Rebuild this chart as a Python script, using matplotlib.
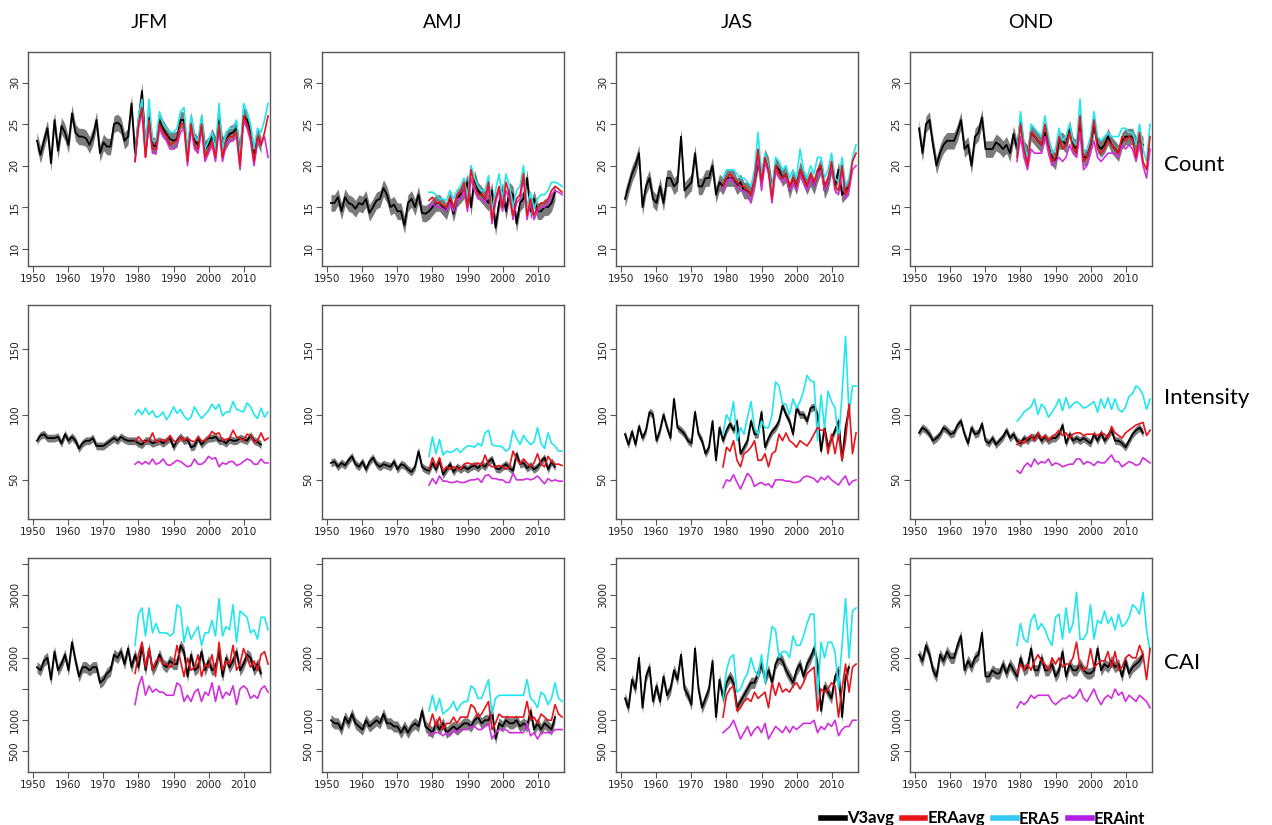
import matplotlib
matplotlib.use("Agg")
import matplotlib.pyplot as plt
from matplotlib.lines import Line2D
import numpy as np

# years: V3 reanalysis 1951-2015, ERA products 1979-2017
years_v3 = np.arange(1951, 2016)
years_era = np.arange(1979, 2018)

seasons = ["JFM", "AMJ", "JAS", "OND"]
metrics = ["Count", "Intensity", "CAI"]
series = ["V3avg", "ERAavg", "ERA5", "ERAint"]

# half width of the grey V3 ensemble band, per metric
v3_spread = [1.0, 3.0, 90]

# ---------------- Count ----------------
count_jfm_v3 = [23, 21.3, 23, 24.5, 20.3, 25.5, 21.8, 24.8, 24, 22.5,
                26.3, 24, 23.5, 23.5, 23.3, 22.5, 23.5, 25.5, 21.5, 22.8,
                22.3, 22.3, 25, 25.2, 24.8, 23, 23.5, 27.5, 21.5, 25.5,
                29, 22, 25.8, 22.5, 22.3, 25.5, 24.5, 23.8, 23.2, 23,
                23.2, 25.5, 25.5, 21.5, 25.5, 23, 22.5, 25.5, 22, 22.5,
                23.5, 22.5, 25.5, 22.5, 23, 23.8, 24, 24.5, 21.5, 26,
                25.5, 24, 21.5, 23.5, 22.5]
count_jfm_eraavg = [20.5, 25, 27, 21, 25.5, 22, 22, 25, 24, 23.5,
                    22.5, 22.8, 23, 25, 25, 20.5, 25, 22.5, 22, 25,
                    21, 22, 23, 21, 25, 21, 23, 23.5, 23.5, 24,
                    20, 26, 25, 23.5, 20.5, 23.5, 22.5, 24, 26]
count_jfm_era5 = [21, 26, 28, 22, 28, 23, 23, 26.5, 25, 24.5,
                  24, 24, 24.5, 26.5, 27, 21.5, 26, 23.5, 23, 26,
                  22, 23, 24, 22, 27.5, 22, 24, 24.5, 24.5, 25.5,
                  21, 27.5, 26.5, 25, 22, 24.5, 24, 25.5, 27.5]
count_jfm_eraint = [20.5, 24.5, 26.5, 21, 25, 21.5, 21.5, 24.5, 23.5, 23,
                    22, 22, 22.5, 24, 24.5, 20, 24.5, 22, 21.5, 24.5,
                    20.5, 21.5, 22.5, 20.5, 24.5, 20.5, 22.5, 23, 23, 23.5,
                    19.5, 25.5, 24.5, 23, 20, 23, 22.5, 23.5, 21]

count_amj_v3 = [15.5, 15.5, 16.2, 14.5, 16.2, 15.5, 15.3, 14.8, 15.5, 15.3,
                16, 14.3, 15, 15.8, 16, 17.3, 16.5, 15, 15.3, 14.5,
                14.5, 12.8, 15.5, 16, 15, 16.5, 14.3, 14.2, 14.5, 15,
                15.5, 15.5, 15, 14.5, 16, 14.2, 16, 16.5, 17, 18,
                15, 18.5, 17, 16.5, 16, 15.5, 17, 12.5, 15.5, 17,
                14.5, 17, 16.5, 13, 15.5, 16, 18.5, 14.5, 16, 14.5,
                14.5, 15, 15, 15.5, 16.8]
count_amj_eraavg = [15.8, 16.2, 15.5, 15.5, 15.2, 15, 16.2, 15, 16.5, 16.8,
                    18, 15, 19.5, 17.5, 16.5, 16.5, 16, 18, 13.5, 16,
                    17.5, 15, 18, 16.5, 14, 16, 16.5, 19, 14, 16,
                    14, 15, 15.5, 15.5, 16, 17, 17.5, 17.2, 16.8]
count_amj_era5 = [16.8, 16.8, 16.5, 16, 16, 15.8, 17, 16, 17, 17.5,
                  18.5, 16, 20, 18.5, 17.5, 17, 17, 18.8, 14.5, 17,
                  19, 16, 19, 17.5, 15, 17, 17.5, 20, 15, 16.8,
                  14.8, 16, 16.5, 16.5, 17, 18, 18, 17.8, 17.5]
count_amj_eraint = [15, 15.5, 15, 15, 14.8, 14.5, 15.5, 14.5, 16, 16,
                    17, 14.5, 18.5, 17, 16, 16, 15.5, 17.5, 13, 15.5,
                    17, 14.5, 17, 16, 13.5, 15.5, 16, 18.5, 13.5, 15.5,
                    13.5, 14.5, 15, 15, 15.5, 16.5, 17, 16.8, 16.5]

count_jas_v3 = [16, 17.5, 19, 20, 21.5, 15, 17.5, 18.5, 16, 15.5,
                17.5, 15.5, 18.5, 18.5, 17.5, 18, 23.5, 17, 17.5, 18,
                21.5, 17.5, 17.5, 18.5, 18.5, 20, 16.5, 18, 17.5, 18.5,
                18.5, 18.5, 17.5, 18, 17, 17, 16.5, 18, 20.5, 18.5,
                21, 20, 17, 20, 19.5, 18.5, 19, 17, 18.5, 17.5,
                19.5, 18.5, 17.5, 18.5, 17.5, 19, 20, 17, 18, 20,
                17.5, 19.5, 16.5, 17, 17.5]
count_jas_eraavg = [17.5, 18.5, 19, 18.5, 18, 17.5, 17.5, 17, 16.5, 18.5,
                    22, 18, 21, 19.5, 16, 20, 19, 18.5, 19, 17.5,
                    18.5, 17.5, 19.5, 18.5, 17.5, 19, 18, 19.5, 20, 17.5,
                    18.5, 20.5, 17.5, 17, 20, 16.5, 17.5, 20.5, 21.5]
count_jas_era5 = [18.5, 19.5, 19.5, 19.5, 19, 18.5, 18.5, 18, 17.5, 19.5,
                  24, 19, 21.5, 20, 17, 21, 20.5, 19.5, 20, 18.5,
                  19.5, 18.5, 22, 19.5, 18.5, 20, 19, 21, 21, 18.5,
                  19.5, 21.5, 18.5, 18, 21, 17.5, 18.5, 21, 22.5]
count_jas_eraint = [17, 18, 18.5, 18, 17.5, 17, 17, 16.5, 15.5, 18,
                    21, 17, 20.5, 19, 15.5, 19.5, 18.5, 18, 18.5, 17,
                    18, 17, 19, 18, 17, 18.5, 17.5, 19, 19.5, 17,
                    18, 20, 17, 16.5, 19.5, 16, 17, 19.5, 20]

count_ond_v3 = [24.5, 21.5, 25, 25.5, 22.5, 20, 21.5, 22.5, 23, 23,
                23, 24, 25.5, 22, 22.5, 20, 23.5, 24, 25.8, 22,
                22, 22, 22.8, 22.5, 22, 22.5, 21.5, 23.8, 22, 25.5,
                22, 21.5, 24, 23.5, 23, 22.5, 24, 22.5, 21, 20.5,
                23, 23, 22.5, 24.5, 22.5, 22, 25.5, 21, 21, 22.5,
                25, 22.5, 22, 22.5, 23.5, 22.5, 22, 21.5, 23, 23.5,
                23.5, 23.5, 22.5, 23, 22.5]
count_ond_eraavg = [21, 25, 22, 20, 24, 23.5, 23, 22.5, 25, 22.5,
                    20.5, 21, 23.5, 22, 22.5, 24, 22, 21.5, 26, 20.5,
                    21, 22.5, 25.5, 22, 21.5, 22, 23, 22.5, 22, 21.5,
                    23.5, 23, 23.5, 23, 21, 24, 20.5, 19.5, 23.5]
count_ond_era5 = [21.5, 26.5, 22.5, 21, 25, 24.5, 24, 23.5, 26, 23.5,
                  21.5, 22, 24.5, 23, 23.5, 25, 23, 22.5, 28, 21.5,
                  22, 23.5, 26.5, 23.5, 23, 23.5, 24, 23.5, 23.5, 23.5,
                  24.5, 24.5, 24, 24, 22.5, 25, 22, 20.5, 25]
count_ond_eraint = [20.5, 23.5, 21, 19.5, 22, 21.5, 21.5, 21.5, 23.5, 21.5,
                    20, 20.5, 21, 20.5, 21, 22.5, 21.5, 21, 24, 19.5,
                    20, 21.5, 23, 21, 20.5, 21, 21.5, 21.5, 21.5, 21,
                    22.5, 22, 22.5, 22, 20.5, 22.5, 20, 18.5, 22]

# ---------------- Intensity ----------------
inten_jfm_v3 = [80, 84, 85, 82, 82, 82, 83, 78, 85, 80,
                83, 80, 74, 78, 80, 80, 82, 76, 76, 76,
                78, 80, 82, 80, 83, 81, 80, 80, 80, 78,
                77, 80, 80, 78, 79, 80, 78, 80, 82, 75,
                80, 83, 80, 81, 75, 76, 82, 77, 80, 82,
                82, 83, 80, 80, 78, 81, 80, 80, 82, 81,
                80, 84, 80, 79, 77]
inten_jfm_eraavg = [80, 83, 80, 79, 80, 86, 79, 80, 81, 79,
                    84, 80, 79, 83, 80, 82, 80, 79, 83, 80,
                    80, 83, 87, 85, 86, 80, 81, 82, 88, 83,
                    82, 80, 85, 84, 79, 80, 86, 80, 82]
inten_jfm_era5 = [100, 104, 100, 105, 100, 103, 98, 99, 102, 96,
                  100, 106, 101, 104, 99, 96, 98, 106, 101, 97,
                  100, 103, 108, 104, 108, 99, 102, 102, 110, 104,
                  103, 102, 109, 106, 100, 97, 105, 98, 102]
inten_jfm_eraint = [62, 64, 62, 64, 62, 66, 62, 63, 66, 62,
                    61, 63, 65, 64, 62, 60, 61, 66, 62, 62,
                    64, 68, 66, 67, 60, 63, 62, 64, 64, 61,
                    62, 64, 66, 65, 62, 62, 66, 63, 63]

inten_amj_v3 = [63, 64, 60, 63, 61, 65, 68, 62, 60, 64,
                58, 64, 67, 62, 60, 62, 61, 60, 64, 58,
                62, 61, 58, 56, 60, 72, 60, 58, 57, 63,
                58, 65, 54, 58, 62, 56, 60, 58, 60, 58,
                60, 61, 59, 62, 60, 64, 66, 59, 58, 60,
                62, 59, 57, 70, 62, 63, 59, 61, 58, 60,
                64, 67, 58, 64, 60]
inten_amj_eraavg = [58, 67, 60, 67, 57, 60, 58, 60, 59, 58,
                    62, 63, 62, 62, 63, 61, 69, 62, 60, 60,
                    61, 60, 58, 60, 72, 66, 62, 66, 63, 60,
                    63, 70, 62, 60, 68, 64, 62, 62, 61]
inten_amj_era5 = [68, 83, 70, 81, 69, 72, 71, 72, 74, 71,
                  74, 76, 76, 75, 78, 76, 86, 88, 77, 76,
                  76, 75, 72, 74, 88, 82, 77, 84, 80, 77,
                  79, 90, 78, 74, 86, 78, 76, 72, 72]
inten_amj_eraint = [46, 51, 47, 53, 49, 49, 48, 48, 49, 48,
                    48, 49, 50, 50, 51, 48, 53, 54, 51, 51,
                    50, 50, 48, 48, 55, 50, 50, 50, 51, 50,
                    51, 53, 50, 47, 51, 49, 50, 49, 49]

inten_jas_v3 = [85, 77, 87, 77, 91, 82, 88, 102, 100, 80,
                88, 100, 90, 82, 112, 90, 88, 85, 80, 78,
                102, 85, 80, 70, 75, 95, 65, 90, 80, 88,
                93, 88, 95, 70, 75, 80, 95, 85, 85, 102,
                75, 82, 87, 90, 95, 107, 100, 95, 85, 105,
                100, 100, 95, 105, 106, 100, 72, 90, 75, 82,
                88, 95, 65, 90, 105]
inten_jas_eraavg = [60, 75, 72, 80, 65, 60, 70, 72, 75, 80,
                    65, 65, 70, 60, 70, 72, 85, 80, 86, 80,
                    78, 75, 80, 78, 76, 80, 85, 90, 88, 88,
                    70, 85, 70, 85, 65, 80, 108, 70, 86]
inten_jas_era5 = [85, 100, 95, 110, 80, 90, 85, 98, 110, 90,
                  85, 95, 90, 90, 100, 125, 122, 108, 108, 100,
                  112, 105, 110, 118, 130, 126, 125, 80, 115, 90,
                  118, 110, 105, 80, 115, 160, 100, 122, 122]
inten_jas_eraint = [44, 50, 49, 54, 48, 43, 49, 55, 52, 45,
                    47, 48, 46, 47, 44, 50, 50, 50, 49, 49,
                    48, 48, 49, 52, 53, 52, 51, 48, 52, 50,
                    53, 50, 48, 46, 50, 53, 46, 49, 50]

inten_ond_v3 = [86, 90, 88, 85, 80, 82, 85, 90, 88, 85,
                86, 92, 95, 85, 78, 90, 85, 86, 93, 80,
                78, 82, 77, 80, 83, 88, 82, 85, 80, 78,
                82, 80, 83, 82, 85, 80, 83, 80, 82, 82,
                85, 92, 78, 85, 80, 82, 80, 82, 80, 78,
                85, 80, 86, 80, 84, 88, 80, 80, 78, 75,
                80, 85, 88, 90, 86]
inten_ond_eraavg = [77, 80, 78, 82, 84, 80, 86, 82, 84, 80,
                    83, 85, 88, 84, 86, 82, 85, 86, 86, 84,
                    85, 85, 85, 84, 86, 85, 82, 91, 86, 84,
                    82, 86, 88, 90, 92, 93, 94, 84, 88]
inten_ond_era5 = [95, 98, 102, 104, 106, 112, 100, 108, 105, 98,
                  102, 106, 112, 103, 113, 105, 108, 110, 108, 105,
                  106, 108, 110, 102, 112, 105, 113, 104, 112, 104,
                  102, 106, 114, 116, 122, 120, 115, 104, 112]
inten_ond_eraint = [57, 55, 60, 63, 60, 66, 62, 64, 63, 66,
                    61, 63, 62, 60, 61, 62, 62, 66, 66, 62,
                    64, 63, 61, 64, 63, 63, 66, 69, 64, 64,
                    60, 62, 64, 63, 61, 62, 67, 65, 63]

# ---------------- CAI ----------------
cai_jfm_v3 = [1850, 1800, 1950, 2000, 1650, 2100, 1800, 1900, 2050, 1800,
              2250, 1950, 1700, 1850, 1850, 1800, 1850, 1850, 1600, 1650,
              1750, 1800, 2050, 2000, 2100, 1900, 2150, 1850, 2050, 1850,
              2200, 1800, 2150, 1800, 1900, 2050, 1900, 1850, 1950, 1900,
              1900, 2200, 2100, 1700, 2050, 1800, 1850, 2100, 1800, 1950,
              1800, 1850, 2100, 1700, 2000, 1850, 1950, 2100, 1800, 1900,
              2050, 2000, 1800, 1900, 1750]
cai_jfm_eraavg = [1750, 2050, 2250, 1850, 2150, 1800, 1950, 2000, 1900, 1900,
                  1850, 1900, 2200, 1950, 1700, 2000, 1800, 1850, 2050, 1700,
                  1900, 1850, 2050, 1700, 2250, 1800, 1950, 1900, 2200, 1800,
                  1900, 2150, 2000, 1850, 1950, 1800, 2050, 2100, 1900]
cai_jfm_era5 = [2200, 2700, 2800, 2350, 2800, 2400, 2550, 2400, 2400, 2400,
                2350, 2400, 2850, 2800, 2250, 2500, 2300, 2400, 2500, 2200,
                2400, 2400, 2600, 2350, 2950, 2350, 2500, 2450, 2850, 2250,
                2750, 2700, 2650, 2400, 2450, 2300, 2650, 2650, 2450]
cai_jfm_eraint = [1250, 1550, 1700, 1400, 1550, 1450, 1500, 1450, 1450, 1400,
                  1400, 1400, 1600, 1550, 1300, 1400, 1300, 1450, 1500, 1300,
                  1450, 1400, 1600, 1300, 1550, 1350, 1450, 1400, 1550, 1250,
                  1500, 1550, 1500, 1350, 1400, 1350, 1500, 1550, 1450]

cai_amj_v3 = [1000, 950, 950, 850, 1050, 950, 1100, 950, 900, 850,
              1000, 900, 950, 1000, 950, 1100, 950, 950, 900, 900,
              800, 900, 800, 900, 950, 900, 1150, 900, 850, 800,
              950, 850, 950, 800, 850, 900, 850, 900, 950, 950,
              900, 1000, 1050, 950, 1000, 1000, 1150, 700, 950, 900,
              1000, 950, 950, 1000, 900, 950, 900, 1150, 850, 950,
              850, 950, 900, 850, 1050]
cai_amj_eraavg = [900, 1100, 900, 1050, 850, 950, 950, 1050, 950, 1050,
                  1050, 1050, 1250, 1200, 1050, 1100, 1200, 1300, 850, 950,
                  1100, 1050, 1050, 1050, 1050, 1050, 1050, 1050, 1300, 1000,
                  1050, 950, 1100, 1050, 1000, 1000, 1250, 1100, 1050]
cai_amj_era5 = [1150, 1400, 1150, 1350, 1100, 1150, 1200, 1300, 1150, 1250,
                1300, 1300, 1550, 1500, 1350, 1350, 1500, 1650, 1100, 1350,
                1400, 1400, 1400, 1400, 1400, 1400, 1400, 1400, 1650, 1350,
                1300, 1200, 1450, 1400, 1250, 1350, 1600, 1350, 1300]
cai_amj_eraint = [750, 800, 800, 800, 750, 800, 750, 850, 800, 850,
                  850, 850, 900, 900, 850, 850, 900, 950, 700, 800,
                  850, 850, 850, 800, 800, 800, 800, 800, 950, 750,
                  800, 700, 800, 800, 800, 800, 850, 850, 850]

cai_jas_v3 = [1350, 1200, 1650, 1500, 2000, 1200, 1700, 1850, 1300, 1550,
              1300, 1700, 1400, 1500, 1800, 1650, 2050, 1500, 1400, 1250,
              2150, 1500, 1200, 1350, 1500, 1950, 1050, 1650, 1350, 1600,
              1700, 1600, 1200, 1300, 1400, 1500, 1600, 1600, 1750, 1900,
              1650, 1800, 1600, 1900, 2000, 1950, 1800, 1700, 1600, 1800,
              1900, 1700, 1900, 2000, 2150, 1900, 1150, 1550, 1450, 1350,
              1700, 1800, 1050, 1700, 1850]
cai_jas_eraavg = [1050, 1400, 1500, 1550, 1150, 1200, 1300, 1350, 1300, 1450,
                  1350, 1400, 1450, 1200, 1600, 1400, 1600, 1450, 1500, 1450,
                  1550, 1600, 1500, 1600, 1750, 1800, 1850, 1150, 1500, 1450,
                  1500, 1600, 1550, 1050, 1500, 1900, 1450, 1850, 1900]
cai_jas_era5 = [1350, 1800, 2000, 2050, 1450, 1500, 1650, 1750, 2000, 1800,
                1700, 2050, 1600, 2100, 2500, 2450, 2000, 2100, 2100, 2000,
                2350, 2200, 2200, 2350, 2550, 2700, 2700, 1300, 2250, 2000,
                2250, 2250, 2100, 1500, 2200, 2950, 2000, 2750, 2800]
cai_jas_eraint = [800, 850, 900, 1000, 850, 700, 800, 900, 750, 850,
                  900, 800, 950, 700, 800, 900, 850, 800, 900, 800,
                  900, 850, 900, 950, 950, 950, 1000, 800, 900, 850,
                  950, 900, 1000, 750, 850, 900, 900, 1000, 1000]

cai_ond_v3 = [2050, 1950, 2200, 2050, 1800, 1700, 2050, 1950, 2100, 2000,
              2000, 2200, 2350, 1800, 1950, 1850, 2000, 2050, 2400, 1700,
              1700, 1800, 1750, 1750, 1900, 1750, 1900, 1800, 1700, 2000,
              1800, 1850, 2150, 1800, 1800, 2000, 1800, 1800, 1900, 1700,
              1800, 2100, 1700, 1900, 1800, 1800, 1900, 1800, 1750, 1750,
              1800, 2150, 1800, 1900, 1850, 1950, 1850, 1900, 1700, 1950,
              1750, 1850, 1900, 1950, 2050]
cai_ond_eraavg = [1750, 1900, 1800, 1900, 1800, 1950, 2050, 1950, 1900, 1800,
                  2000, 1900, 2000, 1850, 1900, 1900, 2000, 2250, 1850, 1800,
                  1850, 2150, 1850, 1900, 1950, 1950, 2100, 1850, 2100, 1800,
                  1850, 2000, 2050, 2000, 2000, 2200, 2050, 1650, 2150]
cai_ond_era5 = [2200, 2550, 2300, 2250, 2600, 2700, 2450, 2550, 2450, 2300,
                2200, 2650, 2700, 2300, 2800, 2400, 2550, 3050, 2300, 2300,
                2400, 2850, 2300, 2600, 2550, 2750, 2550, 2650, 2450, 2700,
                2500, 2550, 2650, 2850, 2800, 2700, 3050, 2450, 2100]
cai_ond_eraint = [1200, 1300, 1250, 1300, 1400, 1350, 1400, 1400, 1400, 1400,
                  1300, 1250, 1300, 1350, 1350, 1400, 1350, 1400, 1500, 1350,
                  1300, 1400, 1500, 1350, 1250, 1350, 1400, 1350, 1500, 1400,
                  1450, 1300, 1400, 1350, 1300, 1400, 1350, 1300, 1200]

# y-axis setup per metric
y_limits = [(7.9, 33.7), (20, 184), (170, 3600)]
y_ticks = [[10, 15, 20, 25, 30], [50, 100, 150],
           [500, 1000, 1500, 2000, 2500, 3000, 3500]]
y_ticklabels = [["10", "15", "20", "25", "30"], ["50", "100", "150"],
                ["500", "1000", "", "2000", "", "3000", ""]]
x_ticks = [1950, 1960, 1970, 1980, 1990, 2000, 2010]

panel_data = {
    ("Count", "JFM"): (count_jfm_v3, count_jfm_eraavg, count_jfm_era5, count_jfm_eraint),
    ("Count", "AMJ"): (count_amj_v3, count_amj_eraavg, count_amj_era5, count_amj_eraint),
    ("Count", "JAS"): (count_jas_v3, count_jas_eraavg, count_jas_era5, count_jas_eraint),
    ("Count", "OND"): (count_ond_v3, count_ond_eraavg, count_ond_era5, count_ond_eraint),
    ("Intensity", "JFM"): (inten_jfm_v3, inten_jfm_eraavg, inten_jfm_era5, inten_jfm_eraint),
    ("Intensity", "AMJ"): (inten_amj_v3, inten_amj_eraavg, inten_amj_era5, inten_amj_eraint),
    ("Intensity", "JAS"): (inten_jas_v3, inten_jas_eraavg, inten_jas_era5, inten_jas_eraint),
    ("Intensity", "OND"): (inten_ond_v3, inten_ond_eraavg, inten_ond_era5, inten_ond_eraint),
    ("CAI", "JFM"): (cai_jfm_v3, cai_jfm_eraavg, cai_jfm_era5, cai_jfm_eraint),
    ("CAI", "AMJ"): (cai_amj_v3, cai_amj_eraavg, cai_amj_era5, cai_amj_eraint),
    ("CAI", "JAS"): (cai_jas_v3, cai_jas_eraavg, cai_jas_era5, cai_jas_eraint),
    ("CAI", "OND"): (cai_ond_v3, cai_ond_eraavg, cai_ond_era5, cai_ond_eraint),
}

# check lengths so a typo shows up straight away
for key, vals in panel_data.items():
    lens = [len(v) for v in vals]
    if lens != [len(years_v3)] + [len(years_era)] * 3:
        raise ValueError(f"bad length in {key}: {lens}")

line_colors = {"ERAavg": "#E8141C", "ERA5": "#22E6EE", "ERAint": "#D030DC"}
legend_colors = ["#000000", "#E8141C", "#33C8F5", "#B01EE6"]

W, H = 1272, 825
fig = plt.figure(figsize=(W / 100, H / 100), dpi=100)

col_left = [28, 322, 616, 910]
row_top = [52, 305, 558]
box_w, box_h = 242, 214

for r, metric in enumerate(metrics):
    for c, season in enumerate(seasons):
        ax = fig.add_axes([col_left[c] / W, 1 - (row_top[r] + box_h) / H,
                           box_w / W, box_h / H])
        v3, eraavg, era5, eraint = [np.array(v, dtype=float) for v in panel_data[(metric, season)]]

        s = v3_spread[r]
        ax.fill_between(years_v3, v3 - s, v3 + s, color="#7a7a7a", lw=0, zorder=1)
        ax.plot(years_v3, v3, color="black", lw=1.3, zorder=2)
        ax.plot(years_era, era5, color=line_colors["ERA5"], lw=1.2, zorder=3)
        ax.plot(years_era, eraint, color=line_colors["ERAint"], lw=1.2, zorder=3)
        ax.plot(years_era, eraavg, color=line_colors["ERAavg"], lw=1.2, zorder=4)

        ax.set_xlim(1948.44, 2017.56)
        ax.set_ylim(*y_limits[r])
        ax.set_xticks(x_ticks)
        ax.set_xticklabels([str(t) for t in x_ticks])
        ax.set_yticks(y_ticks[r])
        ax.set_yticklabels(y_ticklabels[r], rotation=90, va="center")
        ax.tick_params(direction="out", length=4, width=0.8, color="#555555",
                       labelsize=7.5, labelcolor="#222222", pad=2)
        for sp in ax.spines.values():
            sp.set_color("#555555")
            sp.set_linewidth(1.0)

        if r == 0:
            fig.text((col_left[c] + box_w / 2) / W, 1 - 22 / H, season,
                     ha="center", va="center", fontsize=14, family="Lato")

# row labels at the right
row_label_y = [165, 398, 663]
for r, metric in enumerate(metrics):
    fig.text(1164 / W, 1 - row_label_y[r] / H, metric, ha="left", va="center",
             fontsize=16, family="Lato")

handles = [Line2D([0], [0], color=col, lw=4) for col in legend_colors]
fig.legend(handles, series, loc="lower right", bbox_to_anchor=(1160 / W, -0.02),
           ncol=4, frameon=False, handlelength=1.4, handletextpad=0.12,
           columnspacing=0.5, prop={"family": "Lato", "weight": "bold", "size": 12})

fig.savefig("out.png", dpi=100)
